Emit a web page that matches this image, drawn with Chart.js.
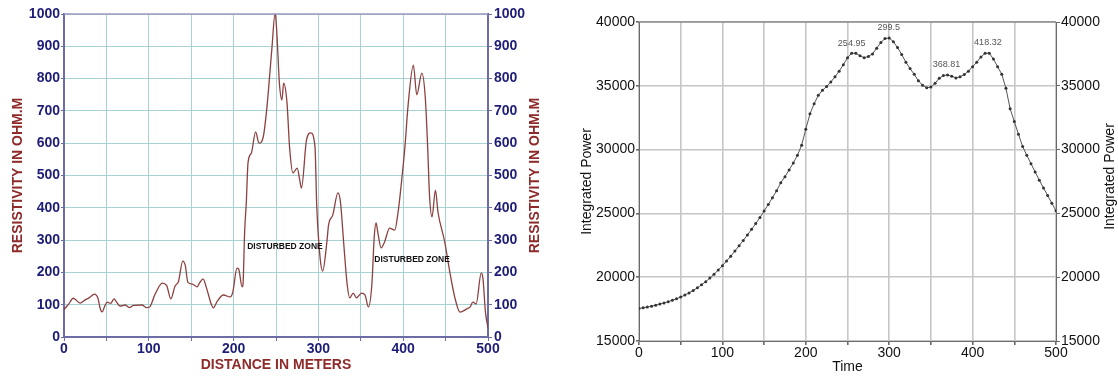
<!DOCTYPE html>
<html><head><meta charset="utf-8">
<script src="https://cdn.jsdelivr.net/npm/chart.js@4.4.0/dist/chart.umd.min.js"></script>
<style>
html,body{margin:0;padding:0;background:#fff;}
#wrap{position:relative;width:1118px;height:376px;overflow:hidden;}
#c1{position:absolute;left:0;top:0;}
#c2{position:absolute;left:560px;top:0;}
</style></head><body>
<div id="wrap">
<canvas id="c1" width="560" height="376" style="width:560px;height:376px"></canvas>
<canvas id="c2" width="558" height="376" style="width:558px;height:376px"></canvas>
</div>
<script>
// ---------- Left chart data (resistivity profile) ----------
const distance = [0,5,11,19,25,30,36,40,43,45,48,51,55,59,62,66,72,77,82,92,97,101,107,116,121,126,131,135,140,143,146,152,157,160,164,168,174,176,181,188,196,199,204,206,210,211,213,215,217,221,226,230,235,239,245,249,251,254,257,259,263,266,270,275,278,280,286,291,296,298,302,305,310,312,317,323,326,330,334,337,341,345,351,355,359,363,366,368,370,374,378,384,390,394,398,402,406,412,416,422,426,429,431,434,438,441,449,455,461,467,475,479,482,486,492,494,497,500];
const resistivity = [85,100,120,105,115,122,133,120,85,78,95,108,104,118,108,96,99,91,98,99,91,93,130,167,160,118,158,172,235,222,170,163,155,168,180,152,99,90,112,130,124,138,213,210,155,160,325,418,539,570,635,600,620,703,888,1003,941,786,734,786,724,588,508,523,486,461,610,632,588,409,245,204,294,347,378,446,418,285,161,121,136,121,136,130,93,161,316,353,325,276,294,337,331,387,480,588,724,842,750,817,743,579,440,372,455,387,294,201,121,77,87,93,108,102,198,183,77,28];
const zoneText = ['DISTURBED ZONE','DISTURBED ZONE'];
const zoneX = [216,366];
const zoneY = [279,238];
const leftYTitle = 'RESISTIVITY IN OHM.M';
const leftXTitle = 'DISTANCE IN METERS';

// ---------- Right chart data (integrated power) ----------
const time = [0,5,10,15,20,25,30,35,40,45,50,55,60,65,70,75,80,85,90,95,100,105,110,115,120,125,130,135,140,145,150,155,160,165,170,175,180,185,190,195,200,205,210,215,220,225,230,235,240,245,250,255,260,265,270,275,280,285,290,295,300,305,310,315,320,325,330,335,340,345,350,355,360,365,370,375,380,385,390,395,400,405,410,415,420,425,430,435,440,445,450,455,460,465,470,475,480,485,490,495,500];
const power = [17550,17600,17660,17730,17810,17890,17980,18080,18190,18310,18440,18600,18770,18960,19170,19400,19650,19930,20230,20560,20900,21270,21650,22050,22460,22880,23310,23750,24200,24680,25180,25700,26230,26780,27400,27880,28400,28950,29550,30350,31600,32800,33600,34250,34650,34950,35300,35700,36150,36650,37200,37550,37550,37350,37200,37300,37500,37950,38400,38700,38750,38450,38000,37450,36850,36350,35900,35400,35050,34850,34900,35200,35600,35800,35850,35750,35620,35700,35880,36150,36500,36850,37250,37550,37550,37100,36500,35900,34800,33200,32200,31200,30250,29550,28900,28250,27600,27000,26400,25800,25200];
const peakText = ['254.95','299.5','368.81','418.32'];
const peakTime = [254.95,299.5,368.81,418.32];
const peakPower = [37550,38750,35850,37570];
const rightYTitle = 'Integrated Power';
const rightXTitle = 'Time';

const FONT = 'Liberation Sans, Arial, Helvetica, sans-serif';

const sideTitle = {
  id: 'sideTitle',
  afterDraw(chart, args, o) {
    if (!o || !o.text) return;
    const {ctx, chartArea} = chart;
    ctx.save();
    ctx.translate(o.x, (chartArea.top + chartArea.bottom) / 2 + (o.dy || 0));
    ctx.rotate(-Math.PI / 2);
    ctx.font = o.font;
    ctx.fillStyle = o.color;
    ctx.textAlign = 'center';
    ctx.textBaseline = 'middle';
    ctx.fillText(o.text, 0, 0);
    ctx.restore();
  }
};
const frame = {
  id: 'frame',
  afterDatasetsDraw(chart, args, o) {
    if (!o || !o.color) return;
    const {ctx, chartArea: a} = chart;
    ctx.save();
    ctx.strokeStyle = o.color;
    ctx.lineWidth = o.width || 1;
    ctx.beginPath();
    ctx.moveTo(a.left, a.top); ctx.lineTo(a.right, a.top);
    ctx.stroke();
    ctx.restore();
  }
};
const textMarks = {
  id: 'textMarks',
  afterDatasetsDraw(chart, args, o) {
    if (!o || !o.items) return;
    const {ctx} = chart;
    const xs = chart.scales.x, ys = chart.scales.y;
    ctx.save();
    ctx.font = o.font;
    ctx.fillStyle = o.color;
    ctx.textAlign = o.align || 'center';
    ctx.textBaseline = 'middle';
    o.items.forEach(it => {
      ctx.fillText(it.t, xs.getPixelForValue(it.x), ys.getPixelForValue(it.y) + (o.dy || 0));
    });
    ctx.restore();
  }
};
const plain = v => String(v);
const hundreds = v => (v % 100 === 0 ? String(v) : '');

// ---------- Left chart ----------
const navy = '#1d1d78';
const dred = '#8e2a2a';
const axisBlue = '#6c6ca6';
const teal = '#a6d2d2';
new Chart(document.getElementById('c1'), {
  type: 'line',
  data: {
    datasets: [{
      data: distance.map((d, i) => ({x: d, y: resistivity[i]})),
      borderColor: '#8d4040',
      borderWidth: 1.3,
      pointRadius: 0,
      cubicInterpolationMode: 'monotone',
      fill: false
    }]
  },
  options: {
    responsive: false,
    devicePixelRatio: 1,
    animation: false,
    events: [],
    layout: {padding: {top: 14, left: 0, right: 0, bottom: 0}},
    plugins: {
      legend: {display: false},
      tooltip: {enabled: false},
      sideTitle: {text: leftYTitle, x: 535, color: dred, font: 'bold 14px ' + FONT},
      frame: {color: '#9a9ac0', width: 1.5},
      textMarks: {
        font: 'bold 8.5px ' + FONT, color: '#111', align: 'left',
        items: zoneText.map((t, i) => ({t, x: zoneX[i], y: zoneY[i]}))
      }
    },
    scales: {
      x: {
        type: 'linear', min: 0, max: 500,
        afterFit(s) { s.height = 39; },
        ticks: {stepSize: 50, autoSkip: false, maxRotation: 0, padding: 0,
          color: navy, font: {family: FONT, size: 14, weight: 'bold'},
          callback: hundreds},
        grid: {color: teal, lineWidth: 1, tickLength: 4, tickColor: axisBlue},
        border: {color: axisBlue, width: 2},
        title: {display: true, text: leftXTitle, color: dred,
          font: {family: FONT, size: 14, weight: 'bold'}, padding: {top: 0, bottom: 2.5}}
      },
      y: {
        position: 'left', min: 0, max: 1000,
        afterFit(s) { s.width = 64; },
        ticks: {stepSize: 100, padding: 1, color: navy, font: {family: FONT, size: 14, weight: 'bold'}, callback: plain},
        grid: {color: teal, lineWidth: 1, tickLength: 3, tickColor: axisBlue},
        border: {color: axisBlue, width: 2},
        title: {display: true, text: leftYTitle, color: dred,
          font: {family: FONT, size: 14, weight: 'bold'}, padding: {top: 10, bottom: 0}}
      },
      y2: {
        position: 'right', min: 0, max: 1000,
        afterFit(s) { s.width = 72; },
        ticks: {stepSize: 100, padding: 2, color: navy, font: {family: FONT, size: 14, weight: 'bold'}, callback: plain},
        grid: {drawOnChartArea: false, tickLength: 4, color: axisBlue},
        border: {color: axisBlue, width: 2}
      }
    }
  },
  plugins: [sideTitle, frame, textMarks]
});

// ---------- Right chart ----------
const gridGray = '#c6c6c6';
const axisGray = '#6a6a6a';
new Chart(document.getElementById('c2'), {
  type: 'line',
  data: {
    datasets: [{
      data: time.map((t, i) => ({x: t, y: power[i]})),
      borderColor: '#555',
      borderWidth: 1,
      pointRadius: 1.5,
      pointBackgroundColor: '#333',
      pointBorderWidth: 0,
      tension: 0,
      fill: false
    }]
  },
  options: {
    responsive: false,
    devicePixelRatio: 1,
    animation: false,
    events: [],
    layout: {padding: {top: 22, left: 0, right: 0, bottom: 0}},
    plugins: {
      legend: {display: false},
      tooltip: {enabled: false},
      sideTitle: {text: rightYTitle, x: 550, color: '#111', font: '14px ' + FONT, dy: -5},
      frame: {color: axisGray, width: 1},
      textMarks: {
        font: '9px ' + FONT, color: '#555', align: 'center', dy: -10,
        items: peakText.map((t, i) => ({t, x: peakTime[i], y: peakPower[i]}))
      }
    },
    scales: {
      x: {
        type: 'linear', min: 0, max: 500,
        afterFit(s) { s.height = 35; },
        ticks: {stepSize: 50, autoSkip: false, maxRotation: 0, padding: 0,
          color: '#111', font: {family: FONT, size: 14},
          callback: hundreds},
        grid: {color: gridGray, lineWidth: 1.6, tickLength: 4, tickColor: axisGray},
        border: {color: axisGray, width: 1},
        title: {display: true, text: rightXTitle, color: '#111',
          font: {family: FONT, size: 14}, padding: {top: 0, bottom: 0}}
      },
      y: {
        position: 'left', min: 15000, max: 40000,
        afterFit(s) { s.width = 79; },
        ticks: {stepSize: 5000, padding: 1, color: '#111', font: {family: FONT, size: 14}, callback: plain},
        grid: {color: gridGray, lineWidth: 1.6, tickLength: 3, tickColor: axisGray},
        border: {color: axisGray, width: 1},
        title: {display: true, text: rightYTitle, color: '#111',
          font: {family: FONT, size: 14}, padding: {top: 19, bottom: 0}}
      },
      y2: {
        position: 'right', min: 15000, max: 40000,
        afterFit(s) { s.width = 62; },
        ticks: {stepSize: 5000, padding: 1, color: '#111', font: {family: FONT, size: 14}, callback: plain},
        grid: {drawOnChartArea: false, tickLength: 4, color: axisGray},
        border: {color: axisGray, width: 1}
      }
    }
  },
  plugins: [sideTitle, frame, textMarks]
});
</script>
</body></html>
